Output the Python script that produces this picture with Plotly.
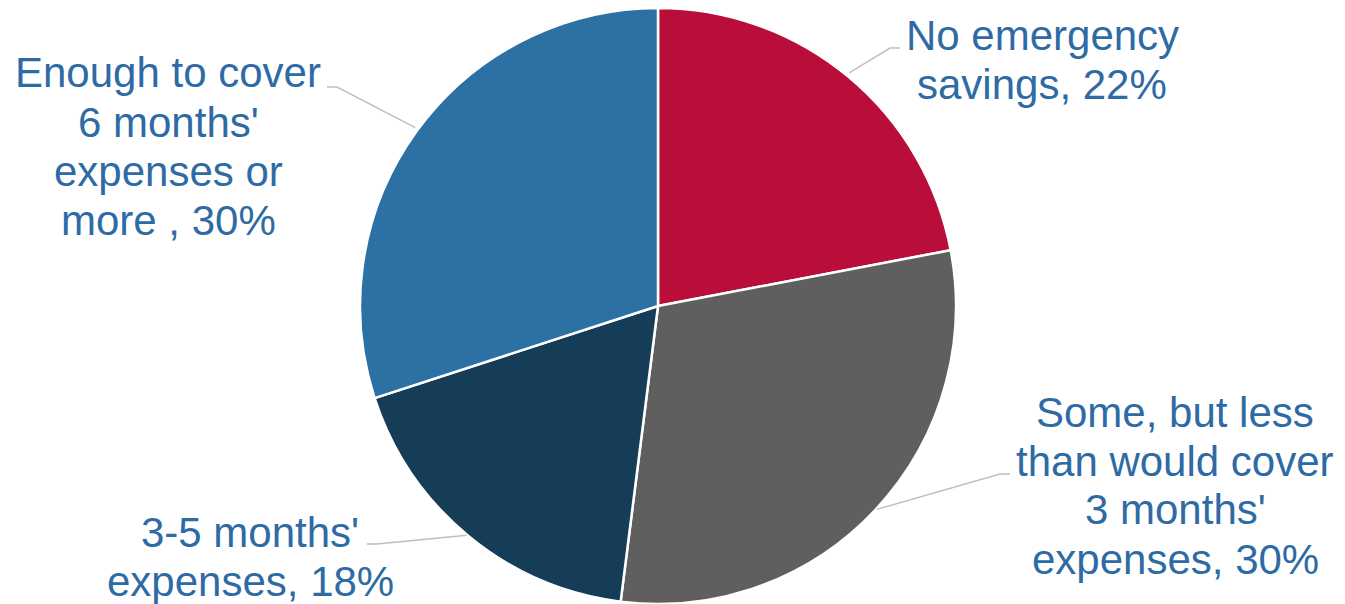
import math
import plotly.graph_objects as go

# ---- data ----
categories = [
    "No emergency savings",
    "Some, but less than would cover 3 months' expenses",
    "3-5 months' expenses",
    "Enough to cover 6 months' expenses or more ",
]
values = [22, 30, 18, 30]
label_lines = [
    ["No emergency", "savings, 22%"],
    ["Some, but less", "than would cover", "3 months'", "expenses, 30%"],
    ["3-5 months'", "expenses, 18%"],
    ["Enough to cover", "6 months'", "expenses or", "more , 30%"],
]
colors = ["#B90E3A", "#5F5F5F", "#153D58", "#2C71A4"]

# ---- layout constants (screen pixels) ----
OFF = 8                      # page body margin
W, H = 1345 - OFF, 604 - OFF  # figure size
CX, CY, R = 658, 304, 300
TEXT_COLOR = "#2E6BA5"
FONT_SIZE = 42
LINE_GAP = 49
# label block: (center x, first line y), leader elbow (x, y), leader end x
label_pos = [
    (1042, 35, (890, 48), 900),
    (1175, 412, (1000, 474), 1010),
    (250, 532, (377, 544), 367),
    (168, 73, (337, 87), 327),
]

def px(x):
    return (x - OFF) / W

def py(y):
    return 1 - (y - OFF) / H

fig = go.Figure(go.Pie(
    labels=categories,
    values=values,
    sort=False,
    direction="clockwise",
    rotation=0,
    marker=dict(colors=colors, line=dict(color="white", width=2.5)),
    textinfo="none",
    hoverinfo="label+percent",
    domain=dict(x=[px(CX - R), px(CX + R)], y=[max(0, py(CY + R)), min(1, py(CY - R))]),
    showlegend=False,
))

annotations = []
shapes = []
total = sum(values)
cum = 0
for v, lines, (lx, ly, (ex, ey), endx) in zip(values, label_lines, label_pos):
    mid = (cum + v / 2) / total * 2 * math.pi
    cum += v
    sx = CX + R * math.sin(mid)
    sy = CY - R * math.cos(mid)
    path = f"M {px(sx)},{py(sy)} L {px(ex)},{py(ey)} L {px(endx)},{py(ey)}"
    shapes.append(dict(type="path", xref="paper", yref="paper", path=path,
                       line=dict(color="#BFBFBF", width=1.5)))
    for i, t in enumerate(lines):
        annotations.append(dict(
            x=px(lx), y=py(ly + i * LINE_GAP), xref="paper", yref="paper",
            text=t, showarrow=False, xanchor="center", yanchor="middle",
            font=dict(family="Liberation Sans, Arial, sans-serif", size=FONT_SIZE, color=TEXT_COLOR),
        ))

fig.update_layout(
    width=W, height=H,
    margin=dict(l=0, r=0, t=0, b=0),
    paper_bgcolor="white",
    plot_bgcolor="white",
    annotations=annotations,
    shapes=shapes,
)

fig.write_html("out.html")
